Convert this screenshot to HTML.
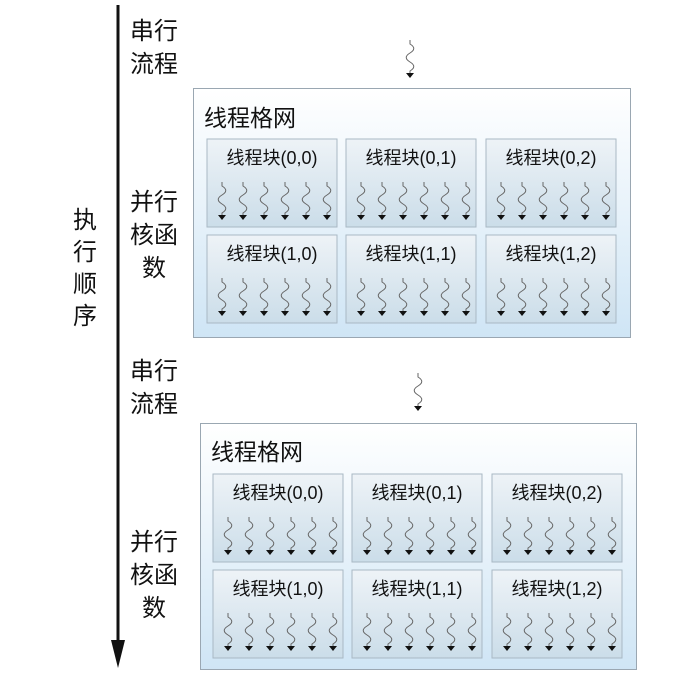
<!DOCTYPE html>
<html><head><meta charset="utf-8"><style>
html,body{margin:0;padding:0;background:#fff;width:700px;height:681px;overflow:hidden}
text{font-family:"Liberation Sans","Noto Sans CJK SC",sans-serif;fill:#111}
</style></head><body>
<svg width="700" height="681" viewBox="0 0 700 681" xmlns="http://www.w3.org/2000/svg">
<defs>
<linearGradient id="gg" x1="0" y1="0" x2="0" y2="1">
<stop offset="0" stop-color="#ffffff"/><stop offset="1" stop-color="#cfe5f5"/></linearGradient>
<linearGradient id="bg" x1="0" y1="0" x2="0" y2="1">
<stop offset="0" stop-color="#eef3f7"/><stop offset="1" stop-color="#cbdde9"/></linearGradient>
<g id="sq">
<path d="M0,0 v4 c5,3 5,6 0,9 c-5,3 -5,6 0,9 c5,3 5,6 0,9 v3" fill="none" stroke="#666" stroke-width="1"/>
<path d="M-4,33 h8 l-4,5 z" fill="#111"/>
</g>
<g id="blk">
<rect x="0" y="0" width="130" height="88" fill="url(#bg)" stroke="#a9b8c4" stroke-width="1"/>
<use href="#sq" x="15" y="43"/><use href="#sq" x="36" y="43"/><use href="#sq" x="57" y="43"/>
<use href="#sq" x="78" y="43"/><use href="#sq" x="99" y="43"/><use href="#sq" x="120" y="43"/>
</g>
</defs>
<!-- axis -->
<line x1="118" y1="5" x2="118" y2="642" stroke="#111" stroke-width="3"/>
<path d="M111,640 h14 l-7,28 z" fill="#111"/>
<g font-size="24">
<text x="73" y="228" style="font-size:24px">执</text>
<text x="73" y="260" style="font-size:24px">行</text>
<text x="73" y="292" style="font-size:24px">顺</text>
<text x="73" y="324" style="font-size:24px">序</text>
</g>
<g style="font-size:24px">
<text x="130" y="39">串行</text><text x="130" y="72">流程</text>
<text x="130" y="210">并行</text><text x="130" y="243">核函</text><text x="142" y="276">数</text>
<text x="130" y="379">串行</text><text x="130" y="412">流程</text>
<text x="130" y="550">并行</text><text x="130" y="583">核函</text><text x="142" y="616">数</text>
</g>
<use href="#sq" x="410" y="40"/>
<use href="#sq" x="418" y="373"/>
<!-- grid 1 -->
<rect x="193.5" y="88.5" width="437" height="249" fill="url(#gg)" stroke="#9aa7b2"/>
<text x="204" y="126" style="font-size:23px">线程格网</text>
<use href="#blk" x="207" y="139"/><use href="#blk" x="346" y="139"/><use href="#blk" x="486" y="139"/>
<use href="#blk" x="207" y="235"/><use href="#blk" x="346" y="235"/><use href="#blk" x="486" y="235"/>
<g style="font-size:18px">
<text x="272" y="164" text-anchor="middle">线程块(0,0)</text>
<text x="411" y="164" text-anchor="middle">线程块(0,1)</text>
<text x="551" y="164" text-anchor="middle">线程块(0,2)</text>
<text x="272" y="260" text-anchor="middle">线程块(1,0)</text>
<text x="411" y="260" text-anchor="middle">线程块(1,1)</text>
<text x="551" y="260" text-anchor="middle">线程块(1,2)</text>
</g>
<!-- grid 2 -->
<rect x="200.5" y="423.5" width="436" height="246" fill="url(#gg)" stroke="#9aa7b2"/>
<text x="211" y="460" style="font-size:23px">线程格网</text>
<use href="#blk" x="213" y="474"/><use href="#blk" x="352" y="474"/><use href="#blk" x="492" y="474"/>
<use href="#blk" x="213" y="570"/><use href="#blk" x="352" y="570"/><use href="#blk" x="492" y="570"/>
<g style="font-size:18px">
<text x="278" y="499" text-anchor="middle">线程块(0,0)</text>
<text x="417" y="499" text-anchor="middle">线程块(0,1)</text>
<text x="557" y="499" text-anchor="middle">线程块(0,2)</text>
<text x="278" y="595" text-anchor="middle">线程块(1,0)</text>
<text x="417" y="595" text-anchor="middle">线程块(1,1)</text>
<text x="557" y="595" text-anchor="middle">线程块(1,2)</text>
</g>
</svg>
</body></html>
